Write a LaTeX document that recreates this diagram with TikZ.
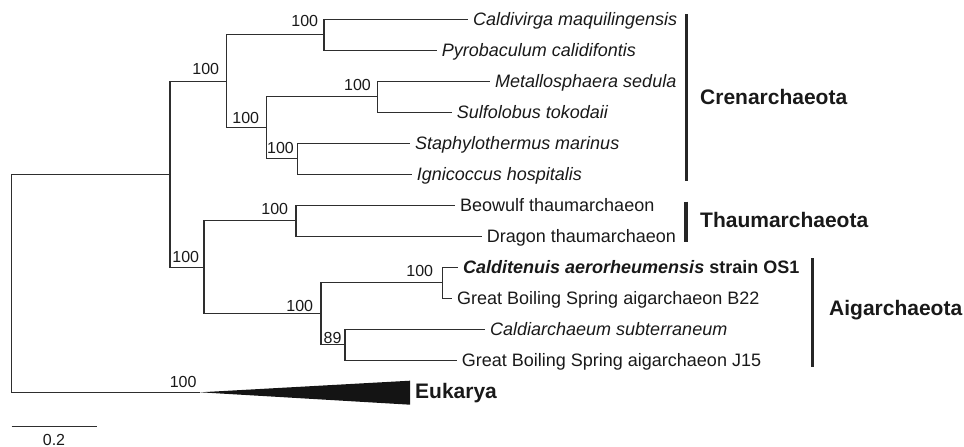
\documentclass[tikz,border=0pt]{standalone}
\usepackage{fontspec}
\setmainfont{Liberation Sans}
\usetikzlibrary{positioning}

\tikzset{
  branch/.style={line width=1.2pt, draw=black!82},
  leaf/.style={anchor=west, inner sep=0pt, text height=12.9pt, text depth=0pt,
    text=black!90, font=\fontsize{18}{20}\selectfont},
  bootstrap/.style={anchor=base east, inner sep=0pt, text=black!90,
    font=\fontsize{16}{18}\selectfont},
  cladebar/.style={line width=3.3pt, draw=black!85},
  clade/.style={anchor=west, inner sep=0pt, text height=15pt, text depth=0pt,
    text=black!90, font=\fontsize{21}{24}\selectfont\bfseries},
}

\newcommand{\placetip}[4]{%
  \coordinate (#1) at (#2,#3);
  \node[leaf, right=5pt of #1] (#1txt) {#4};
}
\newcommand{\placesupport}[4]{%
  \node[bootstrap] (#1bs) at ([xshift=#2pt, yshift=#3pt]#1) {#4};
}

\begin{document}
\begin{tikzpicture}[x=1pt, y=-1pt]
  \useasboundingbox (0,0) rectangle (964,447);

  % Tips of the tree
  \placetip{cmaq}{468}{19.3}{\itshape Caldivirga maquilingensis}
  \placetip{pcal}{436.7}{50.3}{\itshape Pyrobaculum calidifontis}
  \placetip{msed}{490}{81.3}{\itshape Metallosphaera sedula}
  \placetip{stok}{451.7}{112.3}{\itshape Sulfolobus tokodaii}
  \placetip{smar}{410}{143.3}{\itshape Staphylothermus marinus}
  \placetip{ihos}{411.7}{174.3}{\itshape Ignicoccus hospitalis}
  \placetip{beow}{455}{205.3}{Beowulf thaumarchaeon}
  \placetip{drag}{481.7}{236.3}{Dragon thaumarchaeon}
  \placetip{caer}{458}{267.3}{{\bfseries\itshape Calditenuis aerorheumensis} \textbf{strain OS1}}
  \placetip{gbsb}{452}{298.3}{Great Boiling Spring aigarchaeon B22}
  \placetip{csub}{485}{329.3}{\itshape Caldiarchaeum subterraneum}
  \placetip{gbsj}{456.7}{360.3}{Great Boiling Spring aigarchaeon J15}

  % Inner nodes
  \coordinate (root)  at (11.7,283.3);
  \coordinate (arch)  at (170,174.3);
  \coordinate (cren)  at (226.7,81.3);
  \coordinate (crenA) at (324,34.8);
  \coordinate (crenB) at (266.7,127.8);
  \coordinate (crenC) at (377.3,96.8);
  \coordinate (crenD) at (297.7,158.8);
  \coordinate (taig)  at (204,267.3);
  \coordinate (thaum) at (296,220.8);
  \coordinate (aig)   at (321,313.8);
  \coordinate (aigA)  at (442.3,282.8);
  \coordinate (aigB)  at (345,344.8);
  \coordinate (euk)   at (200,392.3);

  % Branches
  \foreach \p/\c in {root/arch, root/euk, arch/cren, arch/taig,
      cren/crenA, cren/crenB, crenA/cmaq, crenA/pcal,
      crenB/crenC, crenB/crenD, crenC/msed, crenC/stok, crenD/smar, crenD/ihos,
      taig/thaum, taig/aig, thaum/beow, thaum/drag,
      aig/aigA, aig/aigB, aigA/caer, aigA/gbsb, aigB/csub, aigB/gbsj}
    \draw[branch] (\p) |- (\c);

  % Collapsed Eukarya
  \coordinate (eukt) at (410,380.7);
  \coordinate (eukb) at (410,404.7);
  \fill[black!92] (euk) -- (eukt) -- (eukb) -- cycle;
  \node[clade] (eukname) at (415,391) {Eukarya};

  % Bootstrap values
  \placesupport{crenA}{-5.7}{8.3}{100}
  \placesupport{cren}{-7.4}{7.3}{100}
  \placesupport{crenB}{-7.4}{4.5}{100}
  \placesupport{crenC}{-6.3}{6.1}{100}
  \placesupport{crenD}{-3.7}{5.5}{100}
  \placesupport{thaum}{-7.7}{6.8}{100}
  \placesupport{taig}{-4.7}{4.6}{100}
  \placesupport{aig}{-7.7}{2.1}{100}
  \placesupport{aigA}{-9}{6.1}{100}
  \placesupport{aigB}{-3.3}{1.5}{89}
  \placesupport{euk}{-3.3}{5}{100}

  % Clades
  \coordinate (crentop) at (686.5,14);
  \coordinate (crenbot) at (686.5,181);
  \draw[cladebar] (crentop) -- (crenbot);
  \node[clade] (crenname) at (700,96.7) {Crenarchaeota};

  \coordinate (thaumtop) at (686,201.7);
  \coordinate (thaumbot) at (686,241.7);
  \draw[cladebar] (thaumtop) -- (thaumbot);
  \node[clade] (thaumname) at (700,220) {Thaumarchaeota};

  \coordinate (aigtop) at (812.3,258.3);
  \coordinate (aigbot) at (812.3,366.7);
  \draw[cladebar] (aigtop) -- (aigbot);
  \node[clade] (aigname) at (829,308.3) {Aigarchaeota};

  % Scale bar
  \coordinate (scaleA) at (11.7,426.7);
  \coordinate (scaleB) at (96.7,426.7);
  \draw[branch] (scaleA) -- (scaleB);
  \node[bootstrap, anchor=base] (scaletxt) at (54,445.5) {0.2};

\end{tikzpicture}
\end{document}
